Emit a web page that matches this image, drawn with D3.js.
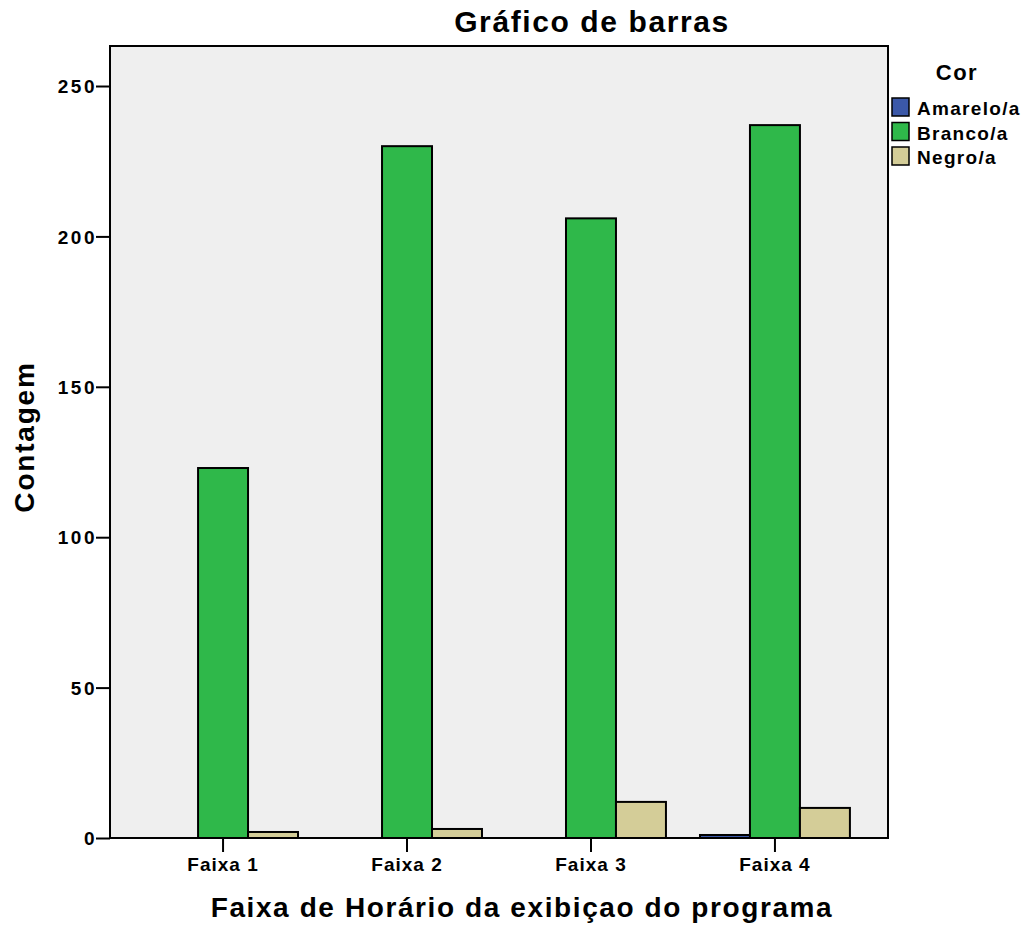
<!DOCTYPE html>
<html>
<head>
<meta charset="utf-8">
<script src="https://cdn.jsdelivr.net/npm/d3@7"></script>
<style>
body { margin: 0; background: #fff; }
text { font-family: "Liberation Sans", Arial, sans-serif; font-weight: bold; fill: #000; }
</style>
</head>
<body>
<svg width="1027" height="927"></svg>
<script>
var svg = d3.select("svg");

//==================================================
//Data

var categories = ["Faixa 1", "Faixa 2", "Faixa 3", "Faixa 4"];
var series = ["Amarelo/a", "Branco/a", "Negro/a"];
var amarelo = [0, 0, 0, 1];
var branco = [123, 230, 206, 237];
var negro = [2, 3, 12, 10];
var yTicks = [0, 50, 100, 150, 200, 250];
var colors = ["#3b58a8", "#2fb84a", "#d4cd98"];

var values = [amarelo, branco, negro];

//==================================================
//Scales

var plot = {left: 110, top: 46, right: 888, bottom: 838};

var x0 = d3.scaleBand()
    .domain(categories)
    .range([plot.left, plot.right])
    .paddingInner(0.185)
    .paddingOuter(0.207);

var x1 = d3.scaleBand()
    .domain(series)
    .range([0, x0.bandwidth()]);

var y = d3.scaleLinear()
    .domain([0, 263.3])
    .range([plot.bottom, plot.top]);

//plot background
svg.append("rect")
    .attr("x", plot.left)
    .attr("y", plot.top)
    .attr("width", plot.right - plot.left)
    .attr("height", plot.bottom - plot.top)
    .attr("fill", "#efefef");

//==================================================
//Bars

var groups = svg.append("g")
    .selectAll("g")
    .data(categories)
    .enter().append("g")
    .attr("transform", function(d) { return "translate(" + x0(d) + ",0)"; });

groups.selectAll("rect")
    .data(function(d, i) {
	return series.map(function(s, j) { return {s: s, v: values[j][i], j: j}; });
    })
    .enter().filter(function(d) { return d.v > 0; })
    .append("rect")
    .attr("x", function(d) { return x1(d.s); })
    .attr("y", function(d) { return y(d.v); })
    .attr("width", x1.bandwidth())
    .attr("height", function(d) { return y(0) - y(d.v); })
    .attr("fill", function(d) { return colors[d.j]; })
    .attr("stroke", "#000")
    .attr("stroke-width", 2);

//==================================================
//Axes

var yAxis = svg.append("g")
    .attr("transform", "translate(" + plot.left + ",0)")
    .call(d3.axisLeft(y).tickValues(yTicks).tickSize(14).tickPadding(-1).tickFormat(d3.format("d")));
yAxis.select(".domain").remove();
yAxis.selectAll("line").attr("stroke", "#000").attr("stroke-width", 2);
yAxis.selectAll("text")
    .style("font-size", "19px")
    .style("letter-spacing", "2.5px")
    .attr("dy", "0.35em");

var xAxis = svg.append("g")
    .attr("transform", "translate(0," + plot.bottom + ")")
    .call(d3.axisBottom(x0).tickSize(14).tickPadding(6));
xAxis.select(".domain").remove();
xAxis.selectAll("line").attr("stroke", "#000").attr("stroke-width", 2);
xAxis.selectAll("text")
    .style("font-size", "19px")
    .style("letter-spacing", "1px");

//frame on top of bars
svg.append("rect")
    .attr("x", plot.left)
    .attr("y", plot.top)
    .attr("width", plot.right - plot.left)
    .attr("height", plot.bottom - plot.top)
    .attr("fill", "none")
    .attr("stroke", "#000")
    .attr("stroke-width", 2);

//==================================================
//Titles

svg.append("text")
    .attr("x", 592)
    .attr("y", 32)
    .attr("text-anchor", "middle")
    .style("font-size", "30px")
    .style("letter-spacing", "1.6px")
    .text("Gráfico de barras");

svg.append("text")
    .attr("x", 522)
    .attr("y", 917)
    .attr("text-anchor", "middle")
    .style("font-size", "28px")
    .style("letter-spacing", "1.6px")
    .text("Faixa de Horário da exibiçao do programa");

svg.append("text")
    .attr("transform", "translate(34,437) rotate(-90)")
    .attr("text-anchor", "middle")
    .style("font-size", "28px")
    .style("letter-spacing", "1.8px")
    .text("Contagem");

//==================================================
//Legend

svg.append("text")
    .attr("x", 957)
    .attr("y", 80)
    .attr("text-anchor", "middle")
    .style("font-size", "22px")
    .style("letter-spacing", "1.5px")
    .text("Cor");

var legend = svg.append("g")
    .selectAll("g")
    .data(series)
    .enter().append("g")
    .attr("transform", function(d, i) { return "translate(892," + (98 + i * 24.5) + ")"; });

legend.append("rect")
    .attr("width", 17)
    .attr("height", 18)
    .attr("fill", function(d, i) { return colors[i]; })
    .attr("stroke", "#000")
    .attr("stroke-width", 1.5);

legend.append("text")
    .attr("x", 25)
    .attr("y", 17)
    .style("font-size", "19px")
    .style("letter-spacing", "1.3px")
    .text(function(d) { return d; });
</script>
</body>
</html>
